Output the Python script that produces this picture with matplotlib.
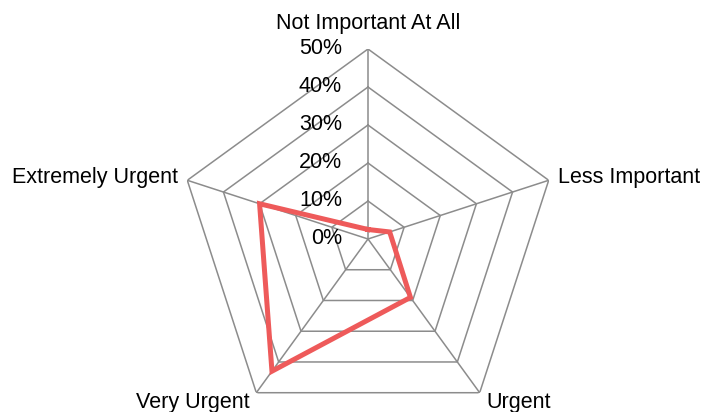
import numpy as np
import matplotlib
matplotlib.use('Agg')
import matplotlib.pyplot as plt

categories = ['Not Important At All', 'Less Important', 'Urgent', 'Very Urgent', 'Extremely Urgent']
values = [2.5, 6, 19, 43, 30]
levels = [0, 10, 20, 30, 40, 50]
level_labels = ['0%', '10%', '20%', '30%', '40%', '50%']

plt.rcParams['font.family'] = ['Liberation Sans Narrow', 'Liberation Sans', 'DejaVu Sans']

fig = plt.figure(figsize=(7.03, 4.12), dpi=100)
ax = fig.add_axes([178/703, -17/412, 380/703, 380/412], projection='polar')
ax.set_theta_offset(np.pi/2)
ax.set_theta_direction(-1)
ax.set_ylim(0, 50)
ax.axis('off')

n = len(categories)
theta = np.arange(n) * 2*np.pi/n
theta_c = np.append(theta, theta[0])

grid_col = '#8c8c8c'
for lv in levels[1:]:
    ax.plot(theta_c, [lv]*(n+1), color=grid_col, lw=1.1, zorder=1)
for t in theta:
    ax.plot([t, t], [0, 50], color=grid_col, lw=1.1, zorder=1)

v = np.append(values, values[0])
ax.plot(theta_c, v, color='#ee5a5a', lw=3.6, zorder=3, solid_joinstyle='miter')

fs = 15.5
for lv, lab in zip(levels, level_labels):
    ax.annotate(lab, xy=(0, lv), xytext=(-26, 0), textcoords='offset pixels',
                ha='right', va='center', fontsize=fs, color='black')

offsets = [(0, 25, 'center', 'center'),
           (9, 3, 'left', 'center'),
           (7, -10, 'left', 'center'),
           (-7, -10, 'right', 'center'),
           (-9, 3, 'right', 'center')]
for t, lab, (dx, dy, ha, va) in zip(theta, categories, offsets):
    ax.annotate(lab, xy=(t, 50), xytext=(dx, dy), textcoords='offset pixels',
                ha=ha, va=va, fontsize=fs, color='black', annotation_clip=False)

fig.savefig('out.png', dpi=100)
